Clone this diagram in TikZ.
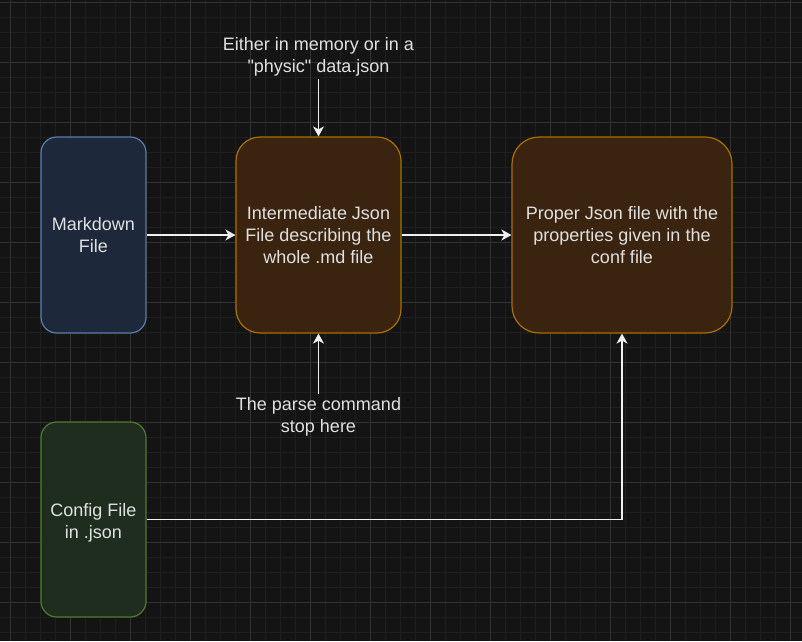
\documentclass[tikz,border=0pt]{standalone}
\usepackage{fontspec}
\setmainfont[Ligatures=TeXOff]{Liberation Sans}
\usetikzlibrary{arrows.meta}
\definecolor{bgc}{RGB}{20,20,20}
\definecolor{gminorc}{RGB}{31,31,31}
\definecolor{gmajorc}{RGB}{50,50,50}
\definecolor{txtc}{RGB}{224,224,224}
\definecolor{mdfill}{RGB}{29,40,58}
\definecolor{mdline}{RGB}{92,124,170}
\definecolor{orfill}{RGB}{58,36,16}
\definecolor{orline}{RGB}{168,112,0}
\definecolor{grfill}{RGB}{31,45,31}
\definecolor{grline}{RGB}{78,122,46}
\definecolor{arrc}{RGB}{240,240,240}
\tikzset{
  gminor/.style={draw=gminorc, line width=0.8pt},
  gmajor/.style={draw=gmajorc, line width=0.9pt},
  box/.style={rectangle, line width=1.2pt, align=center, text=txtc,
    font=\fontsize{18}{22}\selectfont, inner sep=0pt},
  lbl/.style={align=center, text=txtc, font=\fontsize{18}{22}\selectfont, inner sep=3pt},
  conn/.style={draw=arrc, line width=1.4pt, -{Stealth[length=10pt,width=11pt,inset=3pt]}}
}
\begin{document}
\begin{tikzpicture}[x=1pt,y=1pt]
\useasboundingbox (0,0) rectangle (802,-641);
\fill[bgc] (0,0) rectangle (802,-641);
\foreach \i in {0,...,52} \draw[gminor] ({10+15*\i},0) -- ({10+15*\i},-641);
\foreach \j in {0,...,42} \draw[gminor] (0,{-2-15*\j}) -- (802,{-2-15*\j});
\foreach \i in {0,...,13} \draw[gmajor] ({10+60*\i},0) -- ({10+60*\i},-641);
\foreach \j in {0,...,10} \draw[gmajor] (0,{-2-60*\j}) -- (802,{-2-60*\j});

\node[box, fill=mdfill, draw=mdline, rounded corners=15.75pt,
  minimum width=105pt, minimum height=196pt] (md) at (93.5,-235) {Markdown\\File};
\node[box, fill=orfill, draw=orline, rounded corners=24pt,
  minimum width=165pt, minimum height=196pt] (inter) at (318.5,-235)
  {Intermediate Json\\File describing the\\whole .md file};
\node[box, fill=orfill, draw=orline, rounded corners=27pt,
  minimum width=220pt, minimum height=196pt] (prop) at (622,-235)
  {Proper Json file with the\\properties given in the\\conf file};
\node[box, fill=grfill, draw=grline, rounded corners=15.75pt,
  minimum width=105pt, minimum height=195pt] (cfg) at (93.5,-519.5)
  {\raisebox{-3pt}[\height][\depth]{\parbox{100pt}{\centering Config File\\in .json}}};

\node[lbl] (top) at (318.5,-56.5) {Either in memory or in a\\"physic" data.json};
\node[lbl] (bot) at (318.5,-416.5) {The parse command\\stop here};

\draw[conn] (md.east) -- (inter.west);
\draw[conn] (inter.east) -- (prop.west);
\draw[conn] (top.south) -- (inter.north);
\draw[conn] (bot.north) -- (inter.south);
\draw[conn] (cfg.east) -| (prop.south);
\end{tikzpicture}
\end{document}
